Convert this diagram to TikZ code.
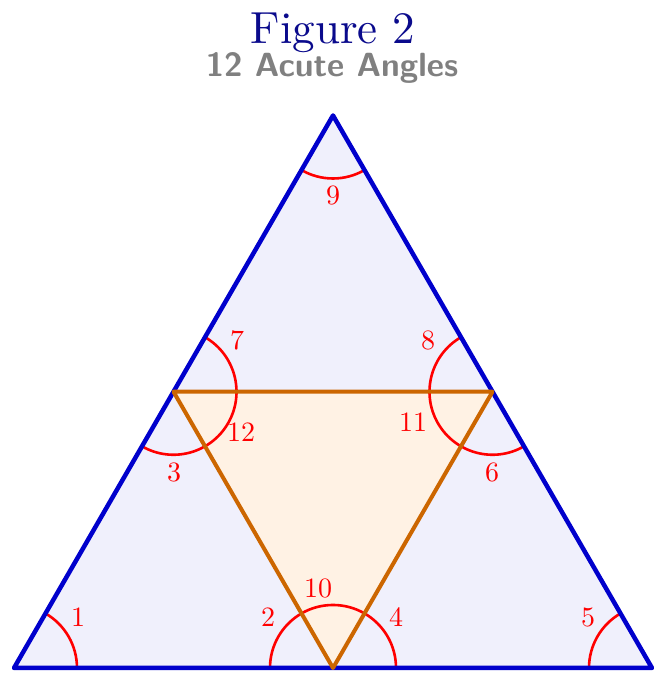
\documentclass[tikz,border=0pt]{standalone}
\usepackage{fontspec}
\setmainfont{lmroman10-regular.otf}
\begin{document}
\begin{tikzpicture}[x=1pt,y=1pt,
  bigtri/.style={draw=bigblue,line width=4.5pt,line join=round},
  smalltri/.style={draw=orng,line width=4pt,line join=round},
  anglearc/.style={draw=red,line width=2.6pt},
  lbl/.style={text=red,font=\fontsize{28}{30}\selectfont,inner sep=0pt}]
\definecolor{bigblue}{RGB}{0,0,204}
\definecolor{lav}{RGB}{240,240,252}
\definecolor{orng}{RGB}{204,102,0}
\definecolor{orngfill}{RGB}{255,242,228}
\definecolor{navy}{RGB}{10,10,140}
\useasboundingbox (0,0) rectangle (671,693);
\coordinate (A) at (14,25);
\coordinate (B) at (652,25);
\coordinate (C) at (333,577.5);
\coordinate (L) at (173.5,301.25);
\coordinate (R) at (492.5,301.25);
\coordinate (M) at (333,25);
\fill[lav] (A) -- (B) -- (C) -- cycle;
\fill[orngfill] (L) -- (R) -- (M) -- cycle;
% arcs
\draw[anglearc] ([shift={(0:63pt)}]A) arc (0:60:63pt);
\draw[anglearc] ([shift={(120:63pt)}]B) arc (120:180:63pt);
\draw[anglearc] ([shift={(240:63pt)}]C) arc (240:300:63pt);
\draw[anglearc] ([shift={(0:63pt)}]M) arc (0:180:63pt);
\draw[anglearc] ([shift={(60:63pt)}]L) arc (60:-120:63pt);
\draw[anglearc] ([shift={(120:63pt)}]R) arc (120:300:63pt);
% outlines
\draw[bigtri] (A) -- (B) -- (C) -- cycle;
\draw[smalltri] (L) -- (R) -- (M) -- cycle;
% labels
\node[lbl] (n1) at (78,76) {1};
\node[lbl] (n2) at (268,76) {2};
\node[lbl] (n10) at (318,105) {10};
\node[lbl] (n4) at (396,76) {4};
\node[lbl] (n5) at (588,76) {5};
\node[lbl] (n3) at (174,221) {3};
\node[lbl] (n6) at (492,221) {6};
\node[lbl] (n7) at (237,353) {7};
\node[lbl] (n8) at (428,353) {8};
\node[lbl] (n12) at (241,261) {12};
\node[lbl] (n11) at (413,271) {11};
\node[lbl] (n9) at (333,498) {9};
\node[text=navy,font=\fontsize{45}{50}\selectfont,inner sep=0pt,anchor=base] (title) at (333,649) {Figure 2};
\node[text=gray,font=\fontsize{33.5}{36}\selectfont\sffamily\bfseries,inner sep=0pt,anchor=base] (sub) at (332,616) {12 Acute Angles};
\end{tikzpicture}
\end{document}
